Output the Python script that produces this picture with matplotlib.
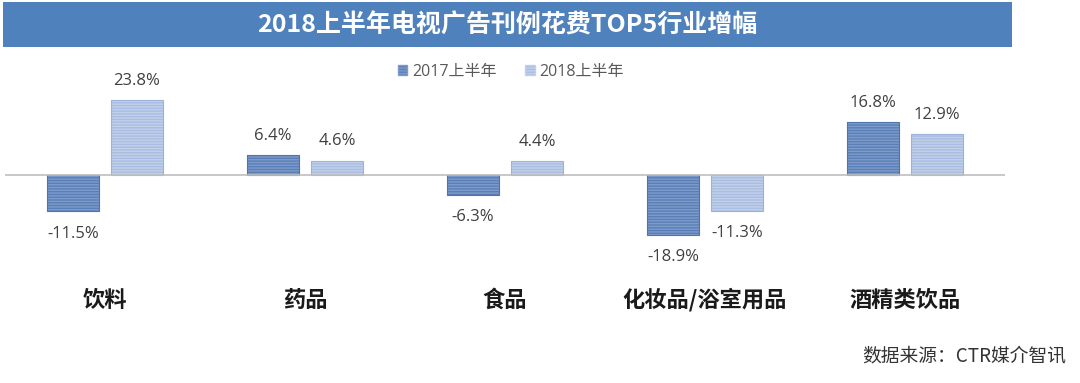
import matplotlib.pyplot as plt
import matplotlib.patches as mpatches
import numpy as np

plt.rcParams['font.family'] = ['Noto Sans CJK SC', 'DejaVu Sans']
num_font = ['Open Sans', 'Noto Sans CJK SC']

categories = ['饮料', '药品', '食品', '化妆品/浴室用品', '酒精类饮品']
series_names = ['2017上半年', '2018上半年']
growth_2017 = [-11.5, 6.4, -6.3, -18.9, 16.8]
growth_2018 = [23.8, 4.6, 4.4, -11.3, 12.9]

W, H = 1080, 383
fig = plt.figure(figsize=(W / 100, H / 100), dpi=100)

# title banner
banner = mpatches.Rectangle((3 / W, 1 - 47 / H), 1009 / W, 45 / H, transform=fig.transFigure,
                            facecolor='#4f81bd', edgecolor='none')
fig.patches.append(banner)
fig.text(507 / W, 1 - 25 / H, '2018上半年电视广告刊例花费TOP5行业增幅', color='white',
         fontsize=18, fontweight='bold', ha='center', va='center')

# axes spans figure height, zero line at y=175px, 3.15 px per %
ax = fig.add_axes([5 / W, 0, 1000 / W, 1])
px = 3.15
ax.set_ylim(-(H - 175) / px, 175 / px)
ax.set_xlim(-0.5, len(categories) - 0.5)
ax.axis('off')

x = np.arange(len(categories))
width = 0.26
off = 0.16
colors = ['#5a7fb6', '#a9bde2']
hatch_cols = ['#7d9bcb', '#c2d1ea']
edge_cols = ['#4f73aa', '#9cb2d9']

for vals, dx, c, hc, ec in [(growth_2017, -off, colors[0], hatch_cols[0], edge_cols[0]),
                            (growth_2018, off, colors[1], hatch_cols[1], edge_cols[1])]:
    ax.bar(x + dx, vals, width, color=c, hatch='------', edgecolor=hc, linewidth=0)
    ax.bar(x + dx, vals, width, fill=False, edgecolor=ec, linewidth=0.8)
    for xi, v in zip(x + dx, vals):
        if v >= 0:
            ax.text(xi, v + 3.6, f'{v:.1f}%', ha='center', va='bottom', fontsize=12,
                    color='#404040', family=num_font)
        else:
            ax.text(xi, v - 4.6, f'{v:.1f}%', ha='center', va='top', fontsize=12,
                    color='#404040', family=num_font)

ax.axhline(0, color='#bfbfbf', linewidth=1.2)

# category labels
for xi, cat in zip(x, categories):
    ax.text(xi, -(300 - 175) / px, cat, ha='center', va='center', fontsize=16,
            fontweight='bold', color='#1a1a1a')

# legend
handles = [mpatches.Patch(facecolor=colors[i], edgecolor=hatch_cols[i], hatch='------')
           for i in range(2)]
leg = fig.legend(handles, series_names, loc='center', bbox_to_anchor=(511 / W, 1 - 72 / H), ncol=2,
                 frameon=False, fontsize=11.5, labelcolor='#595959', handlelength=0.6,
                 handleheight=0.6, handletextpad=0.3, columnspacing=1.8)
for t in leg.get_texts():
    t.set_family(num_font)

fig.text(1066 / W, 1 - 357 / H, '数据来源：CTR媒介智讯', ha='right', va='center', fontsize=13.5,
         color='#333333')

fig.savefig('out.png', dpi=100, facecolor='white')
